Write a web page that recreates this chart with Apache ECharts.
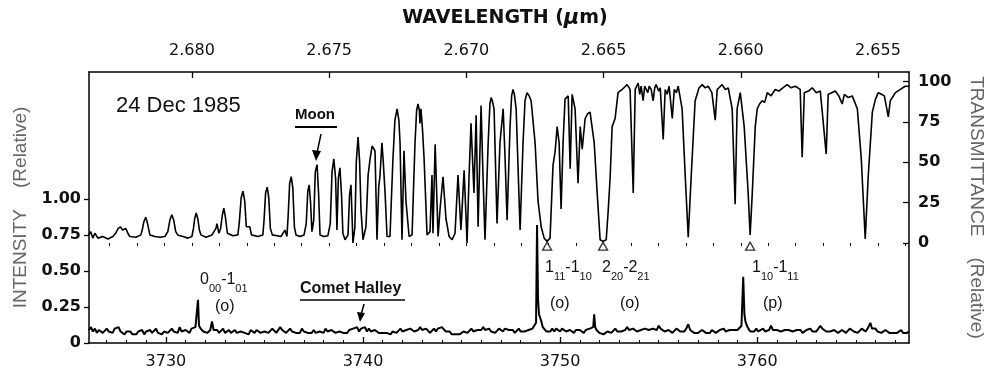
<!DOCTYPE html>
<html>
<head>
<meta charset="utf-8">
<script src="https://cdn.jsdelivr.net/npm/echarts@6/dist/echarts.min.js"></script>
<style>
  html, body { margin: 0; padding: 0; background: #fff; }
  #chart { width: 994px; height: 379px; }
</style>
</head>
<body>
<div id="chart"></div>
<script>
// wavenumber (cm-1) range of the frame, and the wavelength (um) range of the top scale
const WN_MIN = 3726.1
const WN_MAX = 3767.7
const WL_MIN = 2.65387
const WL_MAX = 2.68375

const WN_TICKS = [3730, 3740, 3750, 3760]
const WN_MINOR = [3727, 3728, 3729, 3730, 3731, 3732, 3733, 3734, 3735, 3736, 3737, 3738, 3739, 3740,
  3741, 3742, 3743, 3744, 3745, 3746, 3747, 3748, 3749, 3750, 3751, 3752, 3753, 3754, 3755, 3756,
  3757, 3758, 3759, 3760, 3761, 3762, 3763, 3764, 3765, 3766, 3767]
const WL_TICKS = [2.655, 2.660, 2.665, 2.670, 2.675, 2.680]
const WL_MINOR = [2.654, 2.655, 2.656, 2.657, 2.658, 2.659, 2.660, 2.661, 2.662, 2.663, 2.664, 2.665,
  2.666, 2.667, 2.668, 2.669, 2.670, 2.671, 2.672, 2.673, 2.674, 2.675, 2.676, 2.677, 2.678, 2.679,
  2.680, 2.681, 2.682, 2.683]
const INT_TICKS = [0, 0.25, 0.5, 0.75, 1.0]
const TR_TICKS = [0, 25, 50, 75, 100]

// Moon spectrum: [wavenumber, transmittance %]
const MOON = [
  [3726.09, 5], [3726.19, 7], [3726.29, 3], [3726.40, 6], [3726.55, 3], [3726.80, 4], [3727.06, 2.5],
  [3727.31, 4], [3727.45, 6], [3727.58, 9], [3727.70, 10], [3727.80, 8], [3727.87, 7], [3727.97, 9],
  [3728.07, 6], [3728.17, 4], [3728.48, 3.5], [3728.73, 5], [3728.80, 8], [3728.88, 13], [3728.98, 16],
  [3729.07, 12], [3729.19, 5], [3729.44, 4], [3729.70, 3.5], [3729.95, 4], [3730.10, 7], [3730.20, 14],
  [3730.30, 17.5], [3730.40, 14], [3730.50, 7], [3730.60, 5], [3730.86, 4], [3731.12, 3], [3731.32, 4],
  [3731.40, 9], [3731.46, 15], [3731.54, 18.5], [3731.62, 15], [3731.70, 8], [3731.78, 5], [3732.03, 3.5],
  [3732.34, 5], [3732.54, 9], [3732.59, 12], [3732.69, 6], [3732.78, 9], [3732.86, 17], [3732.94, 21.5],
  [3733.02, 16], [3733.12, 6], [3733.40, 4.5], [3733.65, 5], [3733.72, 12], [3733.82, 28], [3733.91, 32],
  [3734.00, 26], [3734.08, 10], [3734.18, 9], [3734.26, 10], [3734.34, 5], [3734.67, 4], [3734.92, 5],
  [3734.98, 14], [3735.06, 31], [3735.14, 34.5], [3735.22, 28], [3735.30, 9], [3735.40, 5], [3735.84, 4],
  [3736.04, 8], [3736.14, 4], [3736.20, 16], [3736.28, 37], [3736.36, 41], [3736.44, 34], [3736.52, 10],
  [3736.60, 5], [3736.80, 4], [3737.01, 5], [3737.12, 12], [3737.20, 32], [3737.27, 36], [3737.34, 25],
  [3737.41, 7], [3737.50, 14], [3737.58, 44], [3737.67, 48.5], [3737.75, 30], [3737.82, 5], [3738.02, 4],
  [3738.22, 4.5], [3738.34, 12], [3738.43, 44], [3738.52, 52], [3738.61, 40], [3738.68, 8], [3738.75, 40],
  [3738.83, 46.5], [3738.91, 30], [3738.98, 6], [3739.09, 2], [3739.24, 5], [3739.32, 30], [3739.39, 36],
  [3739.45, 15], [3739.49, 0], [3739.59, 10], [3739.66, 50], [3739.75, 65.5], [3739.83, 50], [3739.90, 20],
  [3740.00, 2], [3740.15, 10], [3740.26, 42], [3740.36, 52], [3740.46, 60], [3740.51, 61], [3740.61, 57],
  [3740.66, 30], [3740.71, 2], [3740.80, 35], [3740.86, 41], [3740.96, 62], [3741.03, 50], [3741.12, 31],
  [3741.22, 4], [3741.37, 4], [3741.45, 30], [3741.52, 52], [3741.62, 76], [3741.73, 83], [3741.82, 76],
  [3741.88, 62], [3741.98, 2], [3742.08, 57], [3742.18, 26], [3742.34, 4], [3742.49, 5], [3742.58, 40],
  [3742.64, 62], [3742.72, 82], [3742.79, 86], [3742.86, 82], [3742.89, 74], [3742.94, 83], [3743.02, 70],
  [3743.10, 52], [3743.25, 5], [3743.40, 7], [3743.50, 42], [3743.55, 6], [3743.66, 61], [3743.81, 4],
  [3743.91, 21], [3744.06, 41], [3744.21, 15], [3744.37, 4], [3744.52, 2], [3744.67, 6], [3744.82, 42],
  [3744.97, 8], [3745.13, 45], [3745.28, 0], [3745.38, 41], [3745.48, 74], [3745.63, 31], [3745.74, 79],
  [3745.84, 10], [3745.99, 85], [3746.09, 41], [3746.19, 2], [3746.35, 62], [3746.44, 86], [3746.50, 90],
  [3746.56, 88], [3746.65, 83], [3746.80, 12], [3746.95, 62], [3747.11, 83], [3747.21, 52], [3747.31, 14],
  [3747.46, 72], [3747.54, 91], [3747.61, 95], [3747.68, 92], [3747.77, 83], [3747.97, 8], [3748.12, 62],
  [3748.22, 88], [3748.32, 93], [3748.43, 91], [3748.53, 88], [3748.73, 62], [3748.88, 26], [3749.04, 10],
  [3749.19, 3], [3749.34, 1], [3749.49, 3], [3749.64, 48], [3749.75, 57], [3749.85, 72], [3749.95, 62],
  [3750.05, 21], [3750.15, 62], [3750.25, 89], [3750.41, 91], [3750.51, 46], [3750.61, 92], [3750.76, 83],
  [3750.91, 37], [3751.02, 72], [3751.12, 58], [3751.27, 77], [3751.40, 80], [3751.52, 81], [3751.73, 62],
  [3751.88, 31], [3752.03, 2], [3752.18, 1], [3752.34, 2], [3752.44, 20], [3752.54, 41], [3752.64, 72],
  [3752.79, 77], [3752.94, 93], [3753.15, 95], [3753.40, 98], [3753.55, 95], [3753.71, 31], [3753.81, 95],
  [3753.96, 99], [3754.04, 92], [3754.11, 97], [3754.21, 88], [3754.29, 97], [3754.37, 98], [3754.45, 93],
  [3754.52, 97], [3754.62, 95], [3754.72, 88], [3754.80, 96], [3754.87, 98], [3755.00, 94], [3755.08, 96],
  [3755.23, 64], [3755.33, 95], [3755.43, 92], [3755.53, 97], [3755.69, 77], [3755.79, 95], [3755.90, 93],
  [3755.99, 97], [3756.19, 83], [3756.35, 41], [3756.50, 3.5], [3756.65, 41], [3756.85, 88], [3757.05, 96],
  [3757.21, 98], [3757.36, 96], [3757.51, 97], [3757.70, 93], [3757.87, 76], [3757.97, 95], [3758.22, 98],
  [3758.38, 95], [3758.53, 96], [3758.73, 83], [3758.88, 24], [3758.98, 83], [3759.14, 93], [3759.34, 72],
  [3759.54, 31], [3759.64, 5], [3759.75, 31], [3759.90, 72], [3760.00, 83], [3760.12, 86], [3760.25, 88],
  [3760.38, 87], [3760.51, 93], [3760.70, 91], [3760.91, 95], [3761.10, 94], [3761.30, 96], [3761.52, 98],
  [3761.72, 96], [3761.93, 97], [3762.18, 95], [3762.28, 53], [3762.39, 93], [3762.60, 94], [3762.79, 96],
  [3763.00, 93], [3763.20, 94], [3763.50, 55], [3763.60, 92], [3763.78, 93], [3763.96, 94], [3764.14, 91],
  [3764.31, 86], [3764.42, 92], [3764.62, 90], [3764.82, 91], [3765.08, 83], [3765.28, 52], [3765.48, 2.5],
  [3765.63, 41], [3765.84, 81], [3766.00, 89], [3766.14, 93], [3766.30, 92], [3766.45, 91], [3766.65, 78],
  [3766.75, 88], [3767.01, 93], [3767.26, 95], [3767.51, 97], [3767.72, 97]
]

// Comet Halley spectrum: [wavenumber, relative intensity]
const COMET = [
  [3726.1, .09], [3726.2, .11], [3726.3, .08], [3726.4, .10], [3726.5, .07], [3726.6, .09], [3726.7, .10],
  [3726.8, .07], [3726.9, .08], [3727.0, .10], [3727.1, .08], [3727.2, .09], [3727.3, .07], [3727.4, .10],
  [3727.5, .09], [3727.6, .11], [3727.7, .08], [3727.8, .09], [3727.9, .06], [3728.0, .08], [3728.1, .07],
  [3728.2, .08], [3728.3, .06], [3728.4, .07], [3728.5, .06], [3728.6, .08], [3728.7, .07], [3728.8, .09],
  [3728.9, .06], [3729.0, .08], [3729.1, .07], [3729.2, .09], [3729.3, .07], [3729.4, .08], [3729.5, .10],
  [3729.6, .07], [3729.7, .08], [3729.8, .06], [3729.9, .08], [3730.0, .09], [3730.1, .07], [3730.2, .08],
  [3730.3, .10], [3730.4, .08], [3730.5, .09], [3730.6, .07], [3730.7, .11], [3730.8, .08], [3730.9, .07],
  [3731.0, .09], [3731.1, .08], [3731.2, .07], [3731.3, .10], [3731.4, .09], [3731.5, .11], [3731.58, .12],
  [3731.63, .30], [3731.68, .12], [3731.76, .10], [3731.9, .08], [3732.0, .09], [3732.1, .07], [3732.25, .09],
  [3732.34, .15], [3732.42, .09], [3732.5, .08], [3732.6, .09], [3732.7, .07], [3732.8, .08], [3732.9, .10],
  [3733.0, .07], [3733.1, .08], [3733.2, .09], [3733.3, .07], [3733.4, .08], [3733.5, .09], [3733.6, .07],
  [3733.7, .06], [3733.8, .08], [3733.9, .09], [3734.0, .07], [3734.1, .08], [3734.2, .06], [3734.3, .09],
  [3734.4, .08], [3734.5, .07], [3734.6, .09], [3734.7, .08], [3734.8, .07], [3734.9, .06], [3735.0, .08],
  [3735.1, .09], [3735.2, .07], [3735.3, .08], [3735.4, .10], [3735.5, .09], [3735.6, .07], [3735.7, .08],
  [3735.8, .11], [3735.9, .09], [3736.0, .10], [3736.1, .07], [3736.2, .08], [3736.3, .10], [3736.4, .08],
  [3736.5, .09], [3736.6, .07], [3736.7, .08], [3736.8, .07], [3736.9, .10], [3737.0, .08], [3737.1, .09],
  [3737.2, .07], [3737.3, .08], [3737.4, .07], [3737.5, .09], [3737.6, .07], [3737.7, .06], [3737.8, .08],
  [3737.9, .09], [3738.0, .07], [3738.1, .10], [3738.2, .08], [3738.3, .07], [3738.4, .09], [3738.5, .08],
  [3738.6, .07], [3738.7, .06], [3738.8, .08], [3738.9, .09], [3739.0, .07], [3739.1, .08], [3739.2, .07],
  [3739.3, .09], [3739.4, .08], [3739.5, .10], [3739.6, .09], [3739.7, .11], [3739.8, .08], [3739.9, .10],
  [3740.0, .09], [3740.1, .11], [3740.2, .08], [3740.3, .10], [3740.4, .08], [3740.5, .07], [3740.6, .09],
  [3740.7, .08], [3740.8, .07], [3740.9, .06], [3741.0, .07], [3741.1, .08], [3741.2, .07], [3741.3, .08],
  [3741.4, .06], [3741.5, .08], [3741.6, .09], [3741.7, .07], [3741.8, .08], [3741.9, .10], [3742.0, .08],
  [3742.1, .07], [3742.2, .09], [3742.3, .08], [3742.4, .10], [3742.5, .09], [3742.6, .08], [3742.7, .07],
  [3742.8, .09], [3742.9, .11], [3743.0, .09], [3743.1, .08], [3743.2, .10], [3743.3, .09], [3743.4, .07],
  [3743.5, .08], [3743.6, .10], [3743.7, .08], [3743.8, .10], [3743.9, .09], [3744.0, .11], [3744.1, .10],
  [3744.2, .08], [3744.3, .07], [3744.4, .08], [3744.5, .06], [3744.6, .07], [3744.7, .06], [3744.8, .07],
  [3744.9, .06], [3745.0, .07], [3745.1, .08], [3745.2, .09], [3745.3, .07], [3745.4, .08], [3745.5, .10],
  [3745.6, .08], [3745.7, .07], [3745.8, .09], [3745.9, .08], [3746.0, .09], [3746.1, .11], [3746.2, .09],
  [3746.3, .08], [3746.4, .10], [3746.5, .08], [3746.6, .09], [3746.7, .07], [3746.8, .08], [3746.9, .10],
  [3747.0, .09], [3747.1, .08], [3747.2, .10], [3747.3, .11], [3747.4, .09], [3747.5, .08], [3747.6, .09],
  [3747.7, .07], [3747.8, .08], [3747.9, .10], [3748.0, .08], [3748.1, .09], [3748.2, .08], [3748.3, .07],
  [3748.4, .09], [3748.5, .08], [3748.6, .10], [3748.7, .11], [3748.78, .14], [3748.83, .82], [3748.88, .30],
  [3748.93, .20], [3749.0, .17], [3749.05, .15], [3749.12, .11], [3749.2, .10], [3749.3, .08], [3749.4, .07],
  [3749.5, .08], [3749.6, .10], [3749.7, .08], [3749.8, .10], [3749.9, .09], [3750.0, .08], [3750.1, .10],
  [3750.2, .09], [3750.3, .08], [3750.4, .07], [3750.5, .09], [3750.6, .08], [3750.7, .07], [3750.8, .09],
  [3750.9, .08], [3751.0, .09], [3751.1, .08], [3751.2, .07], [3751.3, .09], [3751.4, .08], [3751.5, .10],
  [3751.6, .09], [3751.68, .11], [3751.73, .20], [3751.78, .11], [3751.85, .09], [3751.95, .08], [3752.0, .07],
  [3752.1, .08], [3752.2, .06], [3752.3, .07], [3752.4, .08], [3752.5, .09], [3752.6, .07], [3752.7, .08],
  [3752.8, .10], [3752.9, .08], [3753.0, .09], [3753.1, .08], [3753.2, .07], [3753.3, .09], [3753.4, .11],
  [3753.5, .09], [3753.6, .08], [3753.7, .10], [3753.8, .09], [3753.9, .08], [3754.0, .07], [3754.1, .09],
  [3754.2, .08], [3754.3, .10], [3754.4, .11], [3754.5, .09], [3754.6, .08], [3754.7, .10], [3754.8, .11],
  [3754.9, .09], [3755.0, .12], [3755.1, .10], [3755.2, .09], [3755.3, .08], [3755.4, .07], [3755.5, .09],
  [3755.6, .08], [3755.7, .07], [3755.8, .08], [3755.9, .10], [3756.0, .09], [3756.1, .08], [3756.2, .09],
  [3756.3, .08], [3756.4, .10], [3756.5, .13], [3756.6, .09], [3756.7, .08], [3756.8, .07], [3756.9, .08],
  [3757.0, .07], [3757.1, .08], [3757.2, .09], [3757.3, .08], [3757.4, .07], [3757.5, .08], [3757.6, .07],
  [3757.7, .09], [3757.8, .08], [3757.9, .07], [3758.0, .08], [3758.1, .09], [3758.2, .08], [3758.3, .10],
  [3758.4, .08], [3758.5, .07], [3758.6, .09], [3758.7, .08], [3758.8, .09], [3758.9, .10], [3759.0, .09],
  [3759.1, .10], [3759.2, .12], [3759.29, .46], [3759.35, .20], [3759.40, .15], [3759.48, .12], [3759.55, .10],
  [3759.65, .08], [3759.75, .09], [3759.85, .08], [3759.95, .10], [3760.05, .08], [3760.15, .09], [3760.3, .10],
  [3760.4, .08], [3760.5, .07], [3760.6, .09], [3760.7, .12], [3760.8, .09], [3760.9, .08], [3761.0, .09],
  [3761.1, .10], [3761.2, .08], [3761.3, .07], [3761.4, .09], [3761.5, .08], [3761.6, .09], [3761.7, .10],
  [3761.8, .08], [3761.9, .07], [3762.0, .09], [3762.1, .08], [3762.2, .09], [3762.3, .07], [3762.4, .08],
  [3762.5, .09], [3762.6, .08], [3762.7, .10], [3762.8, .08], [3762.9, .07], [3763.0, .08], [3763.1, .09],
  [3763.2, .12], [3763.3, .10], [3763.4, .09], [3763.5, .08], [3763.6, .07], [3763.7, .08], [3763.8, .07],
  [3763.9, .09], [3764.0, .08], [3764.1, .07], [3764.2, .08], [3764.3, .09], [3764.4, .08], [3764.5, .07],
  [3764.6, .08], [3764.7, .10], [3764.8, .09], [3764.9, .08], [3765.0, .09], [3765.1, .07], [3765.2, .08],
  [3765.3, .10], [3765.4, .09], [3765.5, .08], [3765.6, .10], [3765.74, .14], [3765.82, .10], [3765.9, .09],
  [3766.0, .10], [3766.1, .08], [3766.2, .09], [3766.3, .07], [3766.4, .08], [3766.5, .09], [3766.6, .08],
  [3766.7, .07], [3766.8, .08], [3766.9, .07], [3767.0, .08], [3767.1, .07], [3767.2, .08], [3767.3, .09],
  [3767.4, .07], [3767.5, .08], [3767.6, .07], [3767.7, .08]
]

// open triangles marking the water lines in the Moon spectrum
const MARKS = [[3749.34, -2], [3752.18, -2], [3759.64, -2]]

const FONT = 'DejaVu Sans'
const INK = '#111'

const chart = echarts.init(document.getElementById('chart'))

const tickLabel = { fontFamily: FONT, fontSize: 16, color: INK }
const axisTitle = { fontFamily: 'Liberation Sans', fontSize: 19, color: '#666' }

function txt(left, top, text, extra) {
  return {
    type: 'text', left, top, silent: true,
    style: Object.assign({ text, fill: INK, font: '16px "Liberation Sans"' }, extra || {})
  }
}
const rich = {
  m: { fontFamily: 'Liberation Sans', fontSize: 16, lineHeight: 22, verticalAlign: 'top', fill: INK },
  s: { fontFamily: 'Liberation Sans', fontSize: 11, lineHeight: 12, verticalAlign: 'bottom', fill: INK }
}

chart.setOption({
  animation: false,
  backgroundColor: '#fff',
  grid: { left: 89, right: 85, top: 72, bottom: 36 },
  xAxis: [
    {
      type: 'value', position: 'bottom', min: WN_MIN, max: WN_MAX,
      axisLine: { show: true, onZero: false, lineStyle: { color: '#000', width: 1.5 } },
      axisTick: { show: true, inside: true, length: 6, customValues: WN_TICKS, lineStyle: { color: '#000', width: 1.3 } },
      axisLabel: Object.assign({ customValues: WN_TICKS, margin: 11, formatter: v => String(v) }, tickLabel),
      splitLine: { show: false }
    },
    {
      type: 'value', position: 'bottom', min: WN_MIN, max: WN_MAX,
      axisLine: { show: false },
      axisTick: { show: true, inside: true, length: 3, customValues: WN_MINOR, lineStyle: { color: '#000', width: 1 } },
      axisLabel: { show: false },
      splitLine: { show: false }
    },
    {
      type: 'value', position: 'top', inverse: true, min: WL_MIN, max: WL_MAX,
      name: 'WAVELENGTH ({mu|\u03bc}m)', nameLocation: 'middle', nameGap: 43,
      nameTextStyle: {
        fontFamily: FONT, fontSize: 19, fontWeight: 'bold', color: INK, padding: [0, 0, 0, 12],
        rich: { mu: { fontFamily: FONT, fontSize: 21, fontStyle: 'italic', fontWeight: 'bold', color: INK } }
      },
      axisLine: { show: true, onZero: false, lineStyle: { color: '#000', width: 1.5 } },
      axisTick: { show: true, inside: true, length: 6, customValues: WL_TICKS, lineStyle: { color: '#000', width: 1.3 } },
      axisLabel: Object.assign({ customValues: WL_TICKS, margin: 13, formatter: v => v.toFixed(3) }, tickLabel),
      splitLine: { show: false }
    },
    {
      type: 'value', position: 'top', inverse: true, min: WL_MIN, max: WL_MAX,
      axisLine: { show: false },
      axisTick: { show: true, inside: true, length: 3, customValues: WL_MINOR, lineStyle: { color: '#000', width: 1 } },
      axisLabel: { show: false },
      splitLine: { show: false }
    }
  ],
  yAxis: [
    {
      type: 'value', position: 'left', min: 0, max: 1.882,
      name: 'INTENSITY    (Relative)', nameLocation: 'middle', nameGap: 52, nameRotate: 90,
      nameTextStyle: axisTitle,
      axisLine: { show: true, lineStyle: { color: '#000', width: 1.5 } },
      axisTick: { show: true, length: 5, customValues: INT_TICKS, lineStyle: { color: '#000', width: 1.3 } },
      axisLabel: Object.assign({ customValues: INT_TICKS, margin: 8, fontWeight: 'bold',
        formatter: v => v === 0 ? '0' : v.toFixed(2) }, tickLabel),
      splitLine: { show: false }
    },
    {
      type: 'value', position: 'right', min: -61.9, max: 105.8,
      name: 'TRANSMITTANCE    (Relative)', nameLocation: 'middle', nameGap: 58, nameRotate: -90,
      nameTextStyle: axisTitle,
      axisLine: { show: true, lineStyle: { color: '#000', width: 1.5 } },
      axisTick: { show: true, inside: true, length: 6, customValues: TR_TICKS, lineStyle: { color: '#000', width: 1.3 } },
      axisLabel: Object.assign({ customValues: TR_TICKS, margin: 9, fontWeight: 'bold' }, tickLabel),
      splitLine: { show: false }
    }
  ],
  series: [
    {
      name: 'Moon', type: 'line', xAxisIndex: 0, yAxisIndex: 1, data: MOON,
      showSymbol: false, lineStyle: { color: '#000', width: 1.6 }, z: 3
    },
    {
      name: 'Comet Halley', type: 'line', xAxisIndex: 0, yAxisIndex: 0, data: COMET,
      showSymbol: false, lineStyle: { color: '#000', width: 2 }, z: 3
    },
    {
      type: 'scatter', xAxisIndex: 0, yAxisIndex: 1, data: MARKS,
      symbol: 'triangle', symbolSize: [9, 8],
      itemStyle: { color: '#fff', borderColor: '#000', borderWidth: 1.3 }, z: 4
    }
  ],
  graphic: [
    txt(116, 95, '24 Dec 1985', { font: '22px "Liberation Sans"' }),
    txt(295, 107, 'Moon', { font: 'bold 15px "Liberation Sans"' }),
    { type: 'line', silent: true, shape: { x1: 295, y1: 127, x2: 337, y2: 127 }, style: { stroke: '#000', lineWidth: 2 } },
    { type: 'line', silent: true, shape: { x1: 321, y1: 134, x2: 317, y2: 153 }, style: { stroke: '#000', lineWidth: 1.5 } },
    { type: 'polygon', silent: true, shape: { points: [[312, 150], [321, 151], [316, 161]] }, style: { fill: '#000' } },
    txt(300, 281, 'Comet Halley', { font: 'bold 16px "Liberation Sans"' }),
    { type: 'line', silent: true, shape: { x1: 300, y1: 300, x2: 405, y2: 300 }, style: { stroke: '#000', lineWidth: 1.5 } },
    { type: 'line', silent: true, shape: { x1: 364, y1: 304, x2: 361, y2: 315 }, style: { stroke: '#000', lineWidth: 1.5 } },
    { type: 'polygon', silent: true, shape: { points: [[357, 312], [365, 313], [360, 322]] }, style: { fill: '#000' } },
    txt(200, 272, '{m|0}{s|00}{m|-1}{s|01}', { rich }),
    txt(215, 299, '(o)'),
    txt(545, 260, '{m|1}{s|11}{m|-1}{s|10}', { rich }),
    txt(550, 296, '(o)'),
    txt(602, 260, '{m|2}{s|20}{m|-2}{s|21}', { rich }),
    txt(620, 296, '(o)'),
    txt(752, 260, '{m|1}{s|10}{m|-1}{s|11}', { rich }),
    txt(763, 296, '(p)')
  ]
})
</script>
</body>
</html>
